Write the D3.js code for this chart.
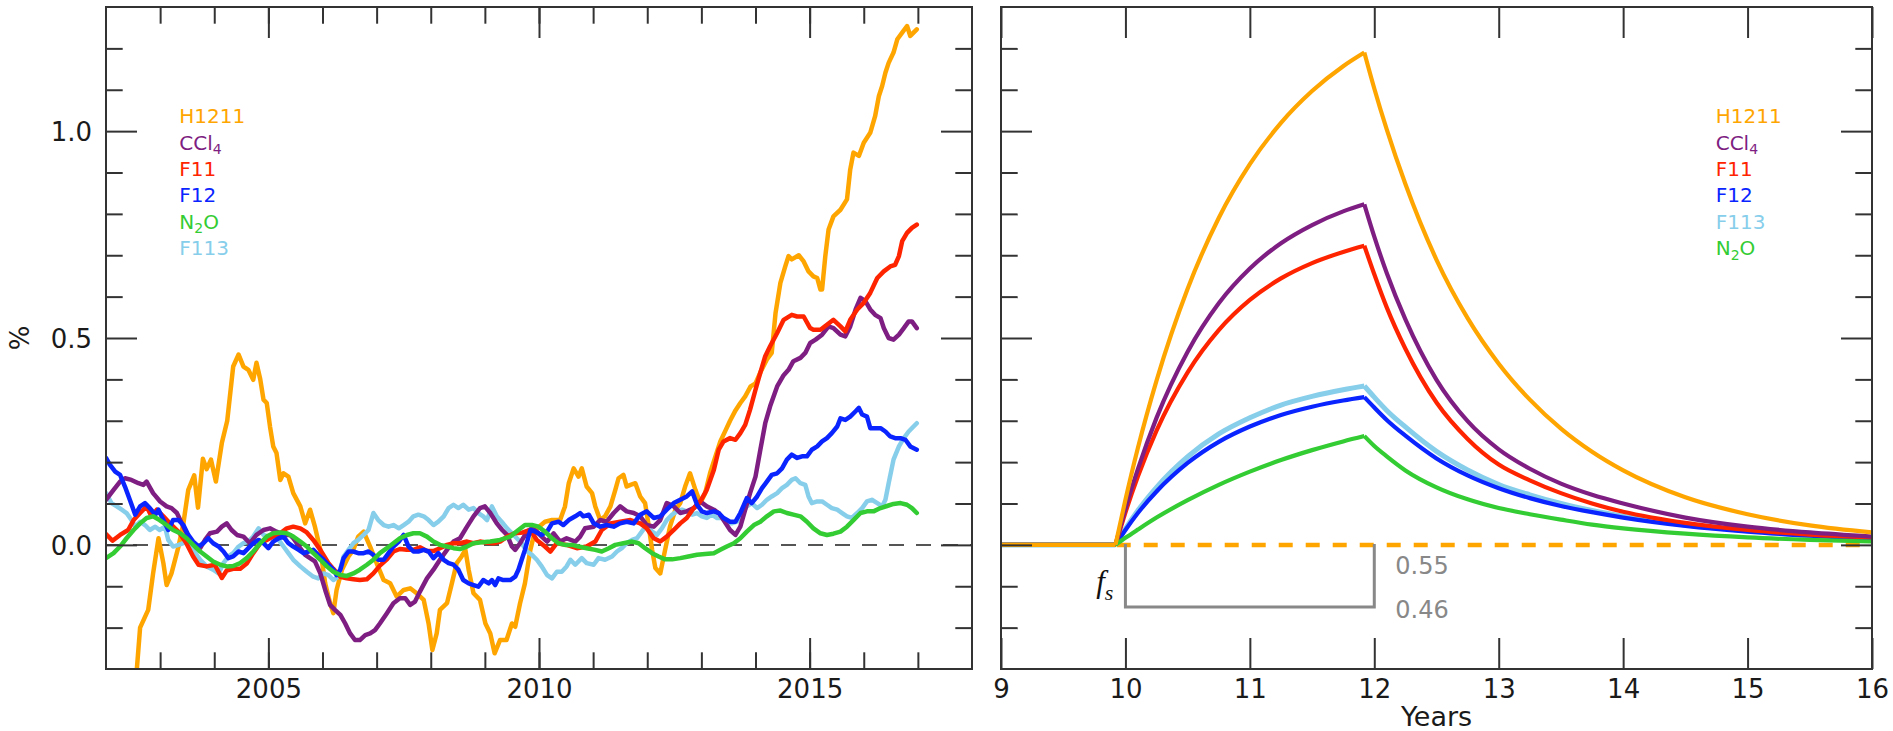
<!DOCTYPE html>
<html>
<head>
<meta charset="utf-8">
<script src="https://cdn.jsdelivr.net/npm/d3@7"></script>
<style>
  html, body { margin: 0; padding: 0; background: #fff; }
  svg { display: block; }
</style>
</head>
<body>
<svg id="chart" width="1893" height="731"></svg>
<script>
// ---- Left panel: growth-rate anomalies (%) of each tracer, [year, value] ----
const h1211Anom = [[2002.45,-0.40],[2002.57,-0.30],[2002.63,-0.20],[2002.78,-0.157],[2002.87,-0.069],[2002.97,0.016],[2003.06,-0.044],[2003.12,-0.097],[2003.21,-0.069],[2003.34,-0.004],[2003.43,0.052],[2003.52,0.133],[2003.63,0.168],[2003.70,0.09],[2003.79,0.208],[2003.86,0.183],[2003.94,0.206],[2004.03,0.153],[2004.14,0.246],[2004.24,0.3],[2004.35,0.431],[2004.45,0.46],[2004.54,0.431],[2004.63,0.423],[2004.72,0.399],[2004.78,0.44],[2004.85,0.40],[2004.91,0.351],[2004.97,0.343],[2005.03,0.286],[2005.09,0.238],[2005.15,0.222],[2005.22,0.157],[2005.28,0.173],[2005.37,0.165],[2005.46,0.125],[2005.59,0.093],[2005.68,0.052],[2005.77,0.085],[2005.86,0.044],[2005.96,-0.012],[2006.05,-0.093],[2006.14,-0.141],[2006.20,-0.165],[2006.26,-0.109],[2006.36,-0.06],[2006.48,-0.028],[2006.57,-0.012],[2006.66,0.02],[2006.76,0.032],[2006.88,-0.004],[2007.00,-0.044],[2007.13,-0.085],[2007.25,-0.093],[2007.37,-0.125],[2007.50,-0.109],[2007.62,-0.105],[2007.74,-0.117],[2007.87,-0.133],[2007.96,-0.19],[2008.03,-0.254],[2008.11,-0.214],[2008.17,-0.157],[2008.30,-0.141],[2008.39,-0.093],[2008.48,-0.044],[2008.57,-0.028],[2008.64,-0.012],[2008.70,-0.06],[2008.79,-0.117],[2008.91,-0.133],[2009.01,-0.19],[2009.10,-0.214],[2009.18,-0.262],[2009.28,-0.23],[2009.40,-0.23],[2009.50,-0.19],[2009.56,-0.198],[2009.65,-0.141],[2009.74,-0.093],[2009.84,-0.012],[2009.93,0.036],[2010.11,0.056],[2010.24,0.06],[2010.39,0.06],[2010.48,0.093],[2010.55,0.149],[2010.64,0.185],[2010.73,0.165],[2010.79,0.185],[2010.88,0.141],[2010.98,0.125],[2011.04,0.093],[2011.13,0.06],[2011.22,0.069],[2011.32,0.093],[2011.41,0.133],[2011.47,0.161],[2011.56,0.169],[2011.62,0.141],[2011.69,0.145],[2011.78,0.149],[2011.87,0.117],[2011.96,0.101],[2012.02,0.052],[2012.09,-0.012],[2012.15,-0.056],[2012.24,-0.069],[2012.33,-0.012],[2012.42,0.044],[2012.52,0.085],[2012.61,0.101],[2012.70,0.141],[2012.79,0.173],[2012.89,0.133],[2012.98,0.101],[2013.07,0.125],[2013.16,0.173],[2013.26,0.214],[2013.35,0.25],[2013.44,0.275],[2013.53,0.3],[2013.63,0.325],[2013.72,0.343],[2013.81,0.359],[2013.91,0.383],[2014.00,0.39],[2014.10,0.42],[2014.21,0.448],[2014.30,0.464],[2014.37,0.56],[2014.46,0.633],[2014.55,0.673],[2014.61,0.698],[2014.67,0.69],[2014.80,0.70],[2014.89,0.685],[2014.98,0.661],[2015.07,0.649],[2015.14,0.645],[2015.20,0.617],[2015.23,0.617],[2015.29,0.698],[2015.35,0.762],[2015.44,0.794],[2015.57,0.81],[2015.69,0.835],[2015.75,0.907],[2015.81,0.948],[2015.91,0.94],[2016.00,0.972],[2016.12,0.996],[2016.21,1.036],[2016.28,1.085],[2016.34,1.109],[2016.40,1.141],[2016.46,1.165],[2016.55,1.19],[2016.62,1.222],[2016.71,1.238],[2016.80,1.254],[2016.86,1.23],[2016.92,1.238],[2016.98,1.246]];

const ccl4Anom = [[2002.0,0.109],[2002.14,0.133],[2002.26,0.153],[2002.35,0.161],[2002.47,0.157],[2002.60,0.149],[2002.69,0.145],[2002.75,0.153],[2002.87,0.125],[2003.00,0.105],[2003.12,0.093],[2003.21,0.089],[2003.31,0.077],[2003.43,0.044],[2003.55,0.012],[2003.68,-0.008],[2003.74,-0.008],[2003.83,0.012],[2003.92,0.028],[2004.05,0.032],[2004.14,0.044],[2004.23,0.052],[2004.32,0.036],[2004.42,0.024],[2004.54,0.02],[2004.66,0.004],[2004.78,0.024],[2004.91,0.036],[2005.03,0.04],[2005.15,0.032],[2005.28,0.024],[2005.40,0.024],[2005.46,0.016],[2005.59,-0.008],[2005.68,-0.024],[2005.77,-0.032],[2005.86,-0.04],[2005.96,-0.069],[2006.05,-0.109],[2006.14,-0.145],[2006.23,-0.157],[2006.33,-0.169],[2006.42,-0.19],[2006.51,-0.214],[2006.60,-0.23],[2006.69,-0.23],[2006.79,-0.218],[2006.88,-0.214],[2006.97,-0.206],[2007.06,-0.19],[2007.19,-0.165],[2007.31,-0.141],[2007.43,-0.129],[2007.53,-0.129],[2007.62,-0.145],[2007.71,-0.137],[2007.80,-0.113],[2007.93,-0.081],[2008.05,-0.06],[2008.17,-0.036],[2008.30,-0.012],[2008.42,0.008],[2008.54,0.016],[2008.67,0.044],[2008.79,0.069],[2008.91,0.089],[2009.0,0.093],[2009.10,0.077],[2009.22,0.052],[2009.32,0.036],[2009.41,0.024],[2009.50,-0.004],[2009.56,-0.012],[2009.65,0.004],[2009.78,0.032],[2009.87,0.04],[2009.96,0.032],[2010.05,0.02],[2010.15,0.008],[2010.27,0.028],[2010.39,0.008],[2010.51,0.016],[2010.67,0.008],[2010.76,0.02],[2010.85,0.04],[2011.01,0.044],[2011.13,0.06],[2011.25,0.056],[2011.38,0.077],[2011.50,0.093],[2011.62,0.081],[2011.75,0.077],[2011.87,0.069],[2011.99,0.048],[2012.12,0.044],[2012.24,0.06],[2012.36,0.101],[2012.49,0.093],[2012.61,0.077],[2012.73,0.081],[2012.86,0.089],[2012.98,0.105],[2013.10,0.093],[2013.23,0.085],[2013.32,0.077],[2013.41,0.06],[2013.53,0.036],[2013.63,0.024],[2013.72,0.044],[2013.81,0.085],[2013.90,0.125],[2014.00,0.165],[2014.09,0.23],[2014.18,0.294],[2014.27,0.335],[2014.40,0.383],[2014.52,0.41],[2014.61,0.423],[2014.70,0.444],[2014.83,0.452],[2014.92,0.464],[2015.01,0.488],[2015.11,0.496],[2015.23,0.508],[2015.35,0.528],[2015.44,0.524],[2015.57,0.508],[2015.66,0.504],[2015.75,0.528],[2015.85,0.569],[2015.94,0.597],[2016.03,0.589],[2016.12,0.569],[2016.21,0.556],[2016.31,0.548],[2016.37,0.524],[2016.46,0.5],[2016.55,0.496],[2016.65,0.508],[2016.74,0.524],[2016.83,0.54],[2016.89,0.54],[2016.98,0.524]];

const f11Anom = [[2002.0,0.026],[2002.12,0.01],[2002.26,0.024],[2002.41,0.036],[2002.51,0.06],[2002.63,0.077],[2002.75,0.093],[2002.84,0.069],[2002.94,0.085],[2003.06,0.069],[2003.18,0.052],[2003.35,0.03],[2003.48,0.005],[2003.61,-0.028],[2003.71,-0.048],[2003.86,-0.052],[2004.01,-0.048],[2004.14,-0.08],[2004.23,-0.062],[2004.35,-0.058],[2004.48,-0.058],[2004.60,-0.045],[2004.72,-0.02],[2004.85,0.004],[2004.97,0.012],[2005.09,0.02],[2005.22,0.028],[2005.34,0.04],[2005.46,0.044],[2005.59,0.04],[2005.71,0.03],[2005.83,0.012],[2005.96,-0.012],[2006.11,-0.044],[2006.20,-0.058],[2006.33,-0.077],[2006.45,-0.081],[2006.57,-0.083],[2006.69,-0.085],[2006.82,-0.083],[2006.94,-0.069],[2007.06,-0.05],[2007.19,-0.035],[2007.31,-0.016],[2007.43,-0.01],[2007.56,-0.012],[2007.68,-0.012],[2007.80,-0.006],[2007.93,-0.015],[2008.05,-0.015],[2008.17,-0.008],[2008.30,0.0],[2008.42,0.004],[2008.54,0.004],[2008.67,0.008],[2008.79,0.004],[2008.91,0.008],[2009.04,0.005],[2009.16,0.004],[2009.28,0.008],[2009.41,0.02],[2009.55,0.028],[2009.70,0.03],[2009.84,0.036],[2009.96,0.012],[2010.11,-0.004],[2010.21,-0.016],[2010.33,0.004],[2010.51,0.0],[2010.70,-0.008],[2010.88,-0.004],[2011.04,0.008],[2011.16,0.036],[2011.32,0.052],[2011.50,0.056],[2011.69,0.06],[2011.87,0.052],[2011.99,0.04],[2012.12,0.016],[2012.24,0.008],[2012.36,0.02],[2012.49,0.036],[2012.61,0.052],[2012.73,0.065],[2012.86,0.089],[2012.98,0.105],[2013.10,0.133],[2013.23,0.181],[2013.32,0.23],[2013.41,0.25],[2013.53,0.258],[2013.63,0.254],[2013.72,0.27],[2013.81,0.29],[2013.90,0.327],[2014.00,0.375],[2014.06,0.403],[2014.18,0.456],[2014.27,0.48],[2014.40,0.512],[2014.52,0.544],[2014.67,0.556],[2014.77,0.552],[2014.89,0.552],[2015.01,0.524],[2015.07,0.52],[2015.20,0.52],[2015.32,0.532],[2015.44,0.544],[2015.57,0.528],[2015.66,0.516],[2015.75,0.544],[2015.88,0.569],[2016.00,0.585],[2016.12,0.609],[2016.25,0.645],[2016.37,0.661],[2016.49,0.673],[2016.58,0.677],[2016.65,0.698],[2016.71,0.734],[2016.80,0.754],[2016.89,0.766],[2016.98,0.774]];

const f12Anom = [[2002.0,0.21],[2002.07,0.194],[2002.17,0.177],[2002.26,0.169],[2002.35,0.141],[2002.44,0.109],[2002.54,0.073],[2002.63,0.093],[2002.72,0.101],[2002.81,0.089],[2002.91,0.073],[2002.97,0.085],[2003.06,0.06],[2003.15,0.036],[2003.24,0.06],[2003.34,0.06],[2003.43,0.048],[2003.52,0.024],[2003.61,0.008],[2003.71,-0.004],[2003.80,0.004],[2003.89,0.016],[2003.98,0.004],[2004.08,-0.004],[2004.17,-0.016],[2004.26,-0.032],[2004.35,-0.028],[2004.45,-0.016],[2004.54,-0.02],[2004.63,-0.008],[2004.72,0.004],[2004.82,0.012],[2004.91,0.004],[2005.00,-0.008],[2005.09,0.008],[2005.19,0.016],[2005.28,0.02],[2005.37,0.004],[2005.46,-0.004],[2005.56,-0.012],[2005.65,-0.02],[2005.74,-0.016],[2005.83,-0.012],[2005.92,-0.024],[2006.02,-0.036],[2006.11,-0.048],[2006.20,-0.06],[2006.26,-0.073],[2006.33,-0.06],[2006.39,-0.032],[2006.48,-0.016],[2006.57,-0.016],[2006.66,-0.02],[2006.76,-0.02],[2006.85,-0.016],[2006.94,-0.024],[2007.03,-0.036],[2007.13,-0.036],[2007.22,-0.02],[2007.31,-0.004],[2007.41,0.008],[2007.50,0.024],[2007.59,-0.004],[2007.68,-0.016],[2007.77,-0.016],[2007.87,-0.012],[2007.96,-0.016],[2008.05,-0.032],[2008.14,-0.02],[2008.24,-0.036],[2008.33,-0.044],[2008.42,-0.048],[2008.51,-0.06],[2008.60,-0.085],[2008.70,-0.093],[2008.79,-0.097],[2008.88,-0.101],[2008.97,-0.085],[2009.07,-0.093],[2009.13,-0.085],[2009.19,-0.097],[2009.25,-0.081],[2009.34,-0.085],[2009.47,-0.085],[2009.56,-0.077],[2009.62,-0.06],[2009.68,-0.036],[2009.74,-0.012],[2009.84,0.036],[2009.93,0.032],[2010.05,0.024],[2010.15,0.032],[2010.24,0.052],[2010.36,0.056],[2010.45,0.048],[2010.55,0.06],[2010.67,0.069],[2010.76,0.077],[2010.82,0.069],[2010.92,0.073],[2011.01,0.052],[2011.13,0.044],[2011.25,0.048],[2011.38,0.044],[2011.50,0.052],[2011.62,0.056],[2011.75,0.052],[2011.87,0.073],[2011.99,0.081],[2012.12,0.065],[2012.24,0.069],[2012.36,0.085],[2012.49,0.101],[2012.61,0.109],[2012.73,0.117],[2012.83,0.129],[2012.92,0.097],[2013.01,0.081],[2013.10,0.077],[2013.23,0.081],[2013.32,0.077],[2013.41,0.065],[2013.53,0.056],[2013.63,0.056],[2013.72,0.077],[2013.84,0.113],[2013.93,0.101],[2014.03,0.117],[2014.12,0.137],[2014.21,0.153],[2014.30,0.169],[2014.40,0.173],[2014.49,0.185],[2014.58,0.206],[2014.67,0.218],[2014.77,0.21],[2014.86,0.214],[2014.95,0.214],[2015.04,0.23],[2015.14,0.238],[2015.23,0.25],[2015.32,0.258],[2015.41,0.27],[2015.51,0.286],[2015.57,0.306],[2015.66,0.302],[2015.75,0.31],[2015.85,0.323],[2015.91,0.331],[2015.97,0.315],[2016.06,0.31],[2016.12,0.282],[2016.21,0.282],[2016.31,0.282],[2016.40,0.274],[2016.49,0.262],[2016.58,0.258],[2016.68,0.258],[2016.77,0.254],[2016.86,0.238],[2016.98,0.23]];

const n2oAnom = [[2002.0,-0.032],[2002.14,-0.02],[2002.26,-0.004],[2002.38,0.016],[2002.51,0.036],[2002.63,0.052],[2002.75,0.065],[2002.87,0.069],[2002.99,0.06],[2003.12,0.048],[2003.24,0.036],[2003.37,0.028],[2003.49,0.016],[2003.61,0.0],[2003.74,-0.016],[2003.86,-0.028],[2003.98,-0.04],[2004.11,-0.048],[2004.23,-0.052],[2004.35,-0.051],[2004.48,-0.044],[2004.60,-0.032],[2004.72,-0.016],[2004.85,0.004],[2004.97,0.02],[2005.09,0.028],[2005.22,0.03],[2005.34,0.028],[2005.46,0.02],[2005.59,0.008],[2005.71,-0.004],[2005.83,-0.02],[2005.96,-0.036],[2006.08,-0.052],[2006.20,-0.065],[2006.33,-0.073],[2006.45,-0.075],[2006.57,-0.069],[2006.69,-0.06],[2006.82,-0.048],[2006.94,-0.036],[2007.06,-0.02],[2007.19,-0.008],[2007.31,0.004],[2007.43,0.016],[2007.56,0.024],[2007.68,0.028],[2007.80,0.028],[2007.93,0.02],[2008.05,0.008],[2008.17,0.0],[2008.30,-0.004],[2008.42,-0.008],[2008.54,-0.01],[2008.67,-0.004],[2008.79,0.004],[2008.91,0.006],[2009.10,0.008],[2009.28,0.012],[2009.47,0.02],[2009.62,0.036],[2009.74,0.048],[2009.87,0.048],[2009.99,0.044],[2010.11,0.032],[2010.24,0.016],[2010.36,0.004],[2010.48,0.0],[2010.61,0.0],[2010.73,-0.004],[2010.88,-0.008],[2011.04,-0.012],[2011.16,-0.016],[2011.29,-0.008],[2011.41,0.0],[2011.56,0.004],[2011.72,0.008],[2011.84,0.004],[2011.96,-0.008],[2012.09,-0.02],[2012.21,-0.028],[2012.33,-0.035],[2012.46,-0.035],[2012.61,-0.032],[2012.76,-0.028],[2012.92,-0.024],[2013.07,-0.022],[2013.23,-0.02],[2013.35,-0.012],[2013.47,-0.004],[2013.60,0.004],[2013.72,0.016],[2013.84,0.032],[2013.97,0.048],[2014.09,0.056],[2014.21,0.069],[2014.34,0.081],[2014.46,0.083],[2014.58,0.077],[2014.70,0.073],[2014.83,0.069],[2014.95,0.056],[2015.07,0.04],[2015.20,0.028],[2015.32,0.024],[2015.44,0.027],[2015.57,0.032],[2015.69,0.044],[2015.81,0.06],[2015.94,0.077],[2016.06,0.081],[2016.18,0.081],[2016.31,0.089],[2016.43,0.094],[2016.55,0.099],[2016.68,0.101],[2016.80,0.097],[2016.89,0.089],[2016.98,0.077]];

const f113Anom = [[2002.0,0.125],[2002.10,0.101],[2002.20,0.093],[2002.29,0.085],[2002.38,0.077],[2002.47,0.06],[2002.54,0.044],[2002.63,0.056],[2002.72,0.048],[2002.81,0.036],[2002.91,0.044],[2002.99,0.036],[2003.09,0.044],[2003.15,0.012],[2003.24,-0.004],[2003.34,0.0],[2003.43,0.004],[2003.52,0.008],[2003.61,-0.012],[2003.74,-0.036],[2003.86,-0.052],[2003.98,-0.06],[2004.08,-0.069],[2004.17,-0.044],[2004.26,-0.028],[2004.35,-0.02],[2004.45,-0.004],[2004.54,0.004],[2004.63,0.008],[2004.72,0.02],[2004.82,0.04],[2004.91,0.024],[2005.00,0.02],[2005.09,0.024],[2005.19,0.012],[2005.28,-0.004],[2005.37,-0.02],[2005.46,-0.036],[2005.59,-0.052],[2005.71,-0.065],[2005.83,-0.077],[2005.92,-0.081],[2006.02,-0.069],[2006.11,-0.073],[2006.20,-0.085],[2006.29,-0.077],[2006.39,-0.028],[2006.48,-0.012],[2006.57,0.004],[2006.66,0.012],[2006.76,0.024],[2006.85,0.036],[2006.94,0.077],[2007.03,0.06],[2007.13,0.048],[2007.22,0.044],[2007.31,0.048],[2007.41,0.04],[2007.50,0.048],[2007.59,0.056],[2007.68,0.069],[2007.77,0.073],[2007.87,0.069],[2007.96,0.06],[2008.05,0.048],[2008.14,0.056],[2008.24,0.069],[2008.33,0.089],[2008.42,0.097],[2008.51,0.089],[2008.60,0.097],[2008.70,0.085],[2008.79,0.089],[2008.88,0.077],[2008.97,0.069],[2009.04,0.06],[2009.13,0.093],[2009.22,0.069],[2009.31,0.056],[2009.41,0.04],[2009.50,0.028],[2009.59,0.016],[2009.68,0.004],[2009.78,-0.016],[2009.87,-0.024],[2009.96,-0.036],[2010.05,-0.052],[2010.15,-0.073],[2010.24,-0.081],[2010.33,-0.065],[2010.42,-0.065],[2010.51,-0.052],[2010.58,-0.036],[2010.67,-0.048],[2010.79,-0.032],[2010.88,-0.044],[2011.01,-0.048],[2011.10,-0.032],[2011.22,-0.036],[2011.35,-0.028],[2011.44,-0.016],[2011.53,-0.008],[2011.62,0.004],[2011.72,0.012],[2011.81,0.016],[2011.90,0.032],[2011.99,0.048],[2012.09,0.032],[2012.18,0.024],[2012.27,0.04],[2012.36,0.06],[2012.46,0.073],[2012.55,0.081],[2012.64,0.085],[2012.73,0.081],[2012.83,0.073],[2012.92,0.077],[2013.01,0.069],[2013.10,0.065],[2013.19,0.073],[2013.29,0.065],[2013.38,0.065],[2013.47,0.052],[2013.56,0.052],[2013.66,0.056],[2013.75,0.077],[2013.84,0.093],[2013.93,0.101],[2014.03,0.089],[2014.12,0.097],[2014.21,0.109],[2014.30,0.117],[2014.40,0.125],[2014.49,0.137],[2014.58,0.145],[2014.67,0.157],[2014.74,0.161],[2014.83,0.149],[2014.92,0.145],[2014.98,0.117],[2015.04,0.101],[2015.14,0.105],[2015.23,0.105],[2015.32,0.097],[2015.41,0.089],[2015.51,0.085],[2015.60,0.077],[2015.69,0.069],[2015.78,0.065],[2015.88,0.077],[2015.97,0.089],[2016.06,0.105],[2016.15,0.109],[2016.25,0.101],[2016.34,0.093],[2016.40,0.109],[2016.46,0.149],[2016.55,0.206],[2016.65,0.238],[2016.74,0.258],[2016.83,0.274],[2016.92,0.286],[2016.98,0.294]];

// ---- Right panel: response to a two-year pulse (%), rise and decay legs ----
const flatTimes  = [9.0, 9.92];
const riseTimes  = [9.92, 10.0, 10.1, 10.25, 10.5, 10.75, 11.0, 11.25, 11.5, 11.75, 11.92];
const decayTimes = [11.92, 12.0, 12.1, 12.25, 12.5, 12.75, 13.0, 13.25, 13.5, 13.75, 14.0, 14.5, 15.0, 15.5, 16.0];

const h1211Rise  = [0, 0.109, 0.234, 0.397, 0.619, 0.790, 0.920, 1.020, 1.097, 1.157, 1.190];
const h1211Decay = [1.190, 1.103, 1.004, 0.872, 0.689, 0.548, 0.438, 0.351, 0.281, 0.225, 0.180, 0.115, 0.074, 0.047, 0.030];
const ccl4Rise   = [0, 0.087, 0.183, 0.307, 0.467, 0.584, 0.668, 0.729, 0.773, 0.806, 0.823];
const ccl4Decay  = [0.823, 0.745, 0.657, 0.545, 0.399, 0.299, 0.231, 0.184, 0.148, 0.121, 0.100, 0.066, 0.044, 0.030, 0.020];
const f11Rise    = [0, 0.078, 0.165, 0.276, 0.417, 0.519, 0.592, 0.644, 0.681, 0.708, 0.723];
const f11Decay   = [0.723, 0.654, 0.574, 0.474, 0.344, 0.256, 0.194, 0.156, 0.125, 0.100, 0.080, 0.053, 0.036, 0.025, 0.018];
const f12Rise    = [0, 0.036, 0.077, 0.129, 0.198, 0.249, 0.286, 0.314, 0.334, 0.349, 0.357];
const f12Decay   = [0.357, 0.332, 0.302, 0.264, 0.209, 0.168, 0.137, 0.113, 0.094, 0.079, 0.066, 0.046, 0.032, 0.022, 0.014];
const f113Rise   = [0, 0.039, 0.083, 0.139, 0.213, 0.268, 0.307, 0.338, 0.359, 0.375, 0.384];
const f113Decay  = [0.384, 0.357, 0.325, 0.285, 0.226, 0.181, 0.146, 0.121, 0.100, 0.083, 0.069, 0.048, 0.034, 0.023, 0.015];
const n2oRise    = [0, 0.017, 0.037, 0.066, 0.108, 0.145, 0.177, 0.205, 0.229, 0.250, 0.263];
const n2oDecay   = [0.263, 0.239, 0.214, 0.180, 0.139, 0.110, 0.089, 0.074, 0.061, 0.049, 0.040, 0.027, 0.018, 0.012, 0.008];

// Bracket annotation values
const bracketSpan   = [10, 12];
const bracketDepth  = -0.15;
const bracketLabels = ["0.55", "0.46"];

// Axis ticks
const leftXMajor  = [2005, 2010, 2015];
const leftXMinor  = d3.range(2003, 2018);
const rightXTicks = d3.range(9, 17);
const yMajor      = [0, 0.5, 1.0];
const yMinor      = [-0.2, -0.1, 0.1, 0.2, 0.3, 0.4, 0.6, 0.7, 0.8, 0.9, 1.1, 1.2];

// Species styling and legend order
const colors = {
  H1211: "#FFA500", CCl4: "#7E1E82", F11: "#FF2400",
  F12: "#0A24FF", N2O: "#33CC33", F113: "#87CEEB"
};
const legendLeft  = ["H1211", "CCl_4", "F11", "F12", "N_2O", "F113"];
const legendRight = ["H1211", "CCl_4", "F11", "F12", "F113", "N_2O"];

const FONT = "'DejaVu Sans', 'Liberation Sans', sans-serif";
const AXIS = "#333";

const svg = d3.select("#chart");
svg.append("rect").attr("width", 1893).attr("height", 731).attr("fill", "#fff");

const y = d3.scaleLinear().domain([-0.3, 1.3]).range([669, 7]);
const xL = d3.scaleLinear().domain([2002, 2018]).range([106, 972]);
const xR = d3.scaleLinear().domain([9, 16]).range([1001, 1872]);

const defs = svg.append("defs");
function clipFor(id, x) {
  defs.append("clipPath").attr("id", id).append("rect")
    .attr("x", x.range()[0]).attr("y", y.range()[1])
    .attr("width", x.range()[1] - x.range()[0])
    .attr("height", y.range()[0] - y.range()[1]);
}
clipFor("clipL", xL);
clipFor("clipR", xR);

function styleAxis(g) {
  g.select(".domain").remove();
  g.selectAll(".tick line").attr("stroke", AXIS).attr("stroke-width", 2);
  g.selectAll(".tick text").attr("fill", "#1a1a1a")
    .style("font-family", FONT).style("font-size", "26px");
}

function drawAxes(x, xMajor, xMinor, xLabelled, yLabelled) {
  const x0 = x.range()[0], x1 = x.range()[1];
  const y0 = y.range()[0], y1 = y.range()[1];
  const layers = svg.append("g");
  // minor ticks
  if (xMinor.length) {
    layers.append("g").attr("transform", `translate(0,${y0})`)
      .call(d3.axisBottom(x).tickValues(xMinor).tickSize(-16.7).tickFormat("")).call(styleAxis);
    layers.append("g").attr("transform", `translate(0,${y1})`)
      .call(d3.axisTop(x).tickValues(xMinor).tickSize(-16.7).tickFormat("")).call(styleAxis);
  }
  layers.append("g").attr("transform", `translate(${x0},0)`)
    .call(d3.axisLeft(y).tickValues(yMinor).tickSize(-16.7).tickFormat("")).call(styleAxis);
  layers.append("g").attr("transform", `translate(${x1},0)`)
    .call(d3.axisRight(y).tickValues(yMinor).tickSize(-16.7).tickFormat("")).call(styleAxis);
  // major ticks
  const bottom = layers.append("g").attr("transform", `translate(0,${y0})`)
    .call(d3.axisBottom(x).tickValues(xMajor).tickSize(-31)
      .tickFormat(xLabelled ? d3.format("d") : "")).call(styleAxis);
  bottom.selectAll(".tick text").attr("y", 29).attr("dy", 0);
  layers.append("g").attr("transform", `translate(0,${y1})`)
    .call(d3.axisTop(x).tickValues(xMajor).tickSize(-31).tickFormat("")).call(styleAxis);
  const left = layers.append("g").attr("transform", `translate(${x0},0)`)
    .call(d3.axisLeft(y).tickValues(yMajor).tickSize(-31).tickPadding(14)
      .tickFormat(yLabelled ? d3.format(".1f") : "")).call(styleAxis);
  left.selectAll(".tick text").attr("dy", "0.37em");
  layers.append("g").attr("transform", `translate(${x1},0)`)
    .call(d3.axisRight(y).tickValues(yMajor).tickSize(-31).tickFormat("")).call(styleAxis);
  // frame
  layers.append("rect").attr("x", x0).attr("y", y1)
    .attr("width", x1 - x0).attr("height", y0 - y1)
    .attr("fill", "none").attr("stroke", AXIS).attr("stroke-width", 2);
}

function drawLegend(names, xPos) {
  const g = svg.append("g");
  names.forEach((nm, i) => {
    const key = nm.replace("_", "");
    const t = g.append("text")
      .attr("x", xPos).attr("y", 123.3 + i * 26.35)
      .attr("fill", colors[key])
      .style("font-family", FONT).style("font-size", "20px");
    const parts = nm.split("_");
    t.append("tspan").text(parts[0]);
    if (parts.length > 1) {
      t.append("tspan").attr("dy", 4.5).style("font-size", "14px").text(parts[1][0]);
      if (parts[1].length > 1) t.append("tspan").attr("dy", -4.5).text(parts[1].slice(1));
    }
  });
}

// ---------------- Left panel ----------------
const lineL = d3.line().x(d => xL(d[0])).y(d => y(d[1]));
const gL = svg.append("g").attr("clip-path", "url(#clipL)");

gL.append("line")
  .attr("x1", xL(2002)).attr("x2", xL(2018))
  .attr("y1", y(0)).attr("y2", y(0))
  .attr("stroke", "#555").attr("stroke-width", 2)
  .attr("stroke-dasharray", "15,12");

const leftSeries = [
  ["H1211", h1211Anom], ["F113", f113Anom], ["CCl4", ccl4Anom],
  ["F11", f11Anom], ["F12", f12Anom], ["N2O", n2oAnom]
];
leftSeries.forEach(([k, data]) => {
  gL.append("path").datum(data)
    .attr("d", lineL)
    .attr("fill", "none")
    .attr("stroke", colors[k])
    .attr("stroke-width", 4.5)
    .attr("stroke-linejoin", "round")
    .attr("stroke-linecap", "round");
});

drawAxes(xL, leftXMajor, leftXMinor, true, true);
drawLegend(legendLeft, 179.3);

svg.append("text")
  .attr("transform", `translate(29,${(y.range()[0] + y.range()[1]) / 2}) rotate(-90)`)
  .attr("text-anchor", "middle")
  .attr("fill", "#1a1a1a")
  .style("font-family", FONT).style("font-size", "26px")
  .text("%");

// ---------------- Right panel ----------------
const gR = svg.append("g").attr("clip-path", "url(#clipR)");
const smooth = d3.line().x(d => xR(d[0])).y(d => y(d[1])).curve(d3.curveMonotoneX);
const straight = d3.line().x(d => xR(d[0])).y(d => y(d[1]));

gR.append("path").datum([[9.93, 0], [16, 0]])
  .attr("d", straight)
  .attr("fill", "none").attr("stroke", colors.H1211)
  .attr("stroke-width", 4.5).attr("stroke-dasharray", "14,13");

const zip = (ts, vs) => ts.map((t, i) => [t, vs[i]]);
const rightSeries = [
  ["F113", f113Rise, f113Decay], ["F12", f12Rise, f12Decay],
  ["F11", f11Rise, f11Decay], ["CCl4", ccl4Rise, ccl4Decay],
  ["N2O", n2oRise, n2oDecay], ["H1211", h1211Rise, h1211Decay]
];
rightSeries.forEach(([k, rise, decay]) => {
  const g = gR.append("g").attr("fill", "none").attr("stroke", colors[k])
    .attr("stroke-width", k === "F113" ? 5 : 4.2).attr("stroke-linejoin", "miter");
  g.append("path").datum(flatTimes.map(t => [t, 0])).attr("d", straight);
  g.append("path").datum(zip(riseTimes, rise)).attr("d", smooth);
  g.append("path").datum(zip(decayTimes, decay)).attr("d", smooth);
});

// bracket marking the pulse window
const bx0 = xR(bracketSpan[0]), bx1 = xR(bracketSpan[1]);
svg.append("path")
  .attr("d", `M${bx0},${y(0) - 1}V${y(bracketDepth)}H${bx1}V${y(0) - 1}`)
  .attr("fill", "none").attr("stroke", "#888").attr("stroke-width", 3);
svg.append("text")
  .attr("x", bx1 + 21).attr("y", y(-0.07))
  .attr("fill", "#888").style("font-family", FONT).style("font-size", "24px")
  .text(bracketLabels[0]);
svg.append("text")
  .attr("x", bx1 + 21).attr("y", y(-0.176))
  .attr("fill", "#888").style("font-family", FONT).style("font-size", "24px")
  .text(bracketLabels[1]);
const fs = svg.append("text")
  .attr("x", bx0 - 12).attr("y", y(-0.115))
  .attr("text-anchor", "end").attr("fill", "#111")
  .style("font-family", "'Liberation Serif', 'DejaVu Serif', serif")
  .style("font-style", "italic").style("font-size", "31px");
fs.append("tspan").text("f");
fs.append("tspan").attr("dy", 8).style("font-size", "22px").text("s");

drawAxes(xR, rightXTicks, [], true, false);
drawLegend(legendRight, 1715.7);

svg.append("text")
  .attr("x", (xR.range()[0] + xR.range()[1]) / 2).attr("y", 726)
  .attr("text-anchor", "middle").attr("fill", "#1a1a1a")
  .style("font-family", FONT).style("font-size", "27px")
  .text("Years");
</script>
</body>
</html>
